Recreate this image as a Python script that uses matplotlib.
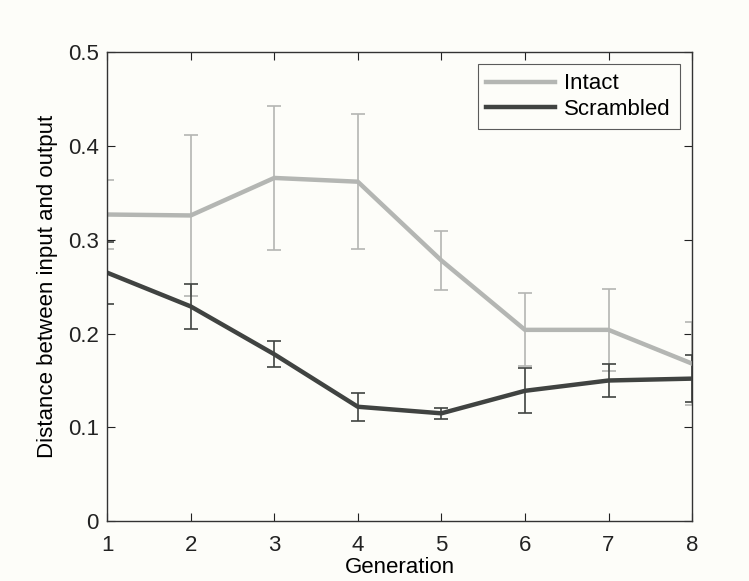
import numpy as np
import matplotlib.pyplot as plt

plt.rcParams['font.family'] = ['Liberation Sans', 'DejaVu Sans']

# Data
generation = [1, 2, 3, 4, 5, 6, 7, 8]
intact = [0.327, 0.326, 0.366, 0.362, 0.278, 0.204, 0.204, 0.168]
intact_err = [0.037, 0.086, 0.077, 0.072, 0.031, 0.039, 0.044, 0.044]
scrambled = [0.265, 0.229, 0.178, 0.122, 0.115, 0.139, 0.150, 0.152]
scrambled_err = [0.033, 0.024, 0.014, 0.015, 0.006, 0.024, 0.018, 0.025]

light = '#b4b6b3'
dark = '#404341'

fig = plt.figure(figsize=(7.49, 5.81), dpi=100, facecolor='#fdfdf9')
ax = fig.add_axes([0.143, 0.103, 0.781, 0.807])
ax.set_facecolor('#fdfdf9')

ax.errorbar(generation, intact, yerr=intact_err, fmt='none', ecolor=light,
            elinewidth=1.2, capsize=5, capthick=1.2)
ax.errorbar(generation, scrambled, yerr=scrambled_err, fmt='none', ecolor=dark,
            elinewidth=1.2, capsize=5, capthick=1.2)
ax.plot(generation, intact, color=light, lw=3.2, label='Intact')
ax.plot(generation, scrambled, color=dark, lw=3.2, label='Scrambled')

ax.set_xlim(1, 8)
ax.set_ylim(0, 0.5)
ax.set_xticks(generation)
ax.set_yticks([0, 0.1, 0.2, 0.3, 0.4, 0.5])
ax.set_yticklabels(['0', '0.1', '0.2', '0.3', '0.4', '0.5'])
ax.tick_params(direction='in', top=True, right=True, length=6, width=0.8,
               labelsize=16, colors='#222222')
ax.tick_params(axis='x', pad=10)
ax.tick_params(axis='y', pad=6)
for s in ax.spines.values():
    s.set_color('#333333')
    s.set_linewidth(1.0)

ax.set_xlabel('Generation', fontsize=16, labelpad=1)
ax.set_ylabel('Distance between input and output', fontsize=16, labelpad=7)

leg = ax.legend(loc='upper right', fontsize=16, frameon=True, fancybox=False,
                edgecolor='#333333', handlelength=3.1, borderpad=0.4,
                labelspacing=0.2, handletextpad=0.4, borderaxespad=0,
                bbox_to_anchor=(0.979, 0.974))
leg.get_frame().set_linewidth(0.8)
leg.get_frame().set_facecolor('#fdfdf9')

fig.savefig('out.png', dpi=100, facecolor=fig.get_facecolor())
